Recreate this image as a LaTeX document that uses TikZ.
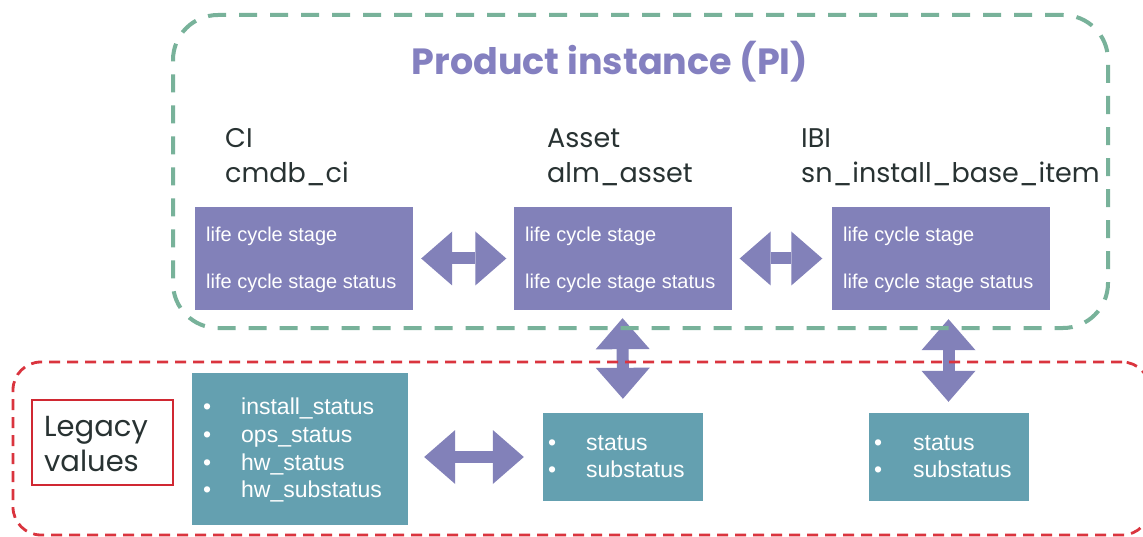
\documentclass[tikz,border=0pt]{standalone}
\usepackage{fontspec}
\setmainfont{Liberation Sans}
\newfontfamily\labelfont{Poppins}
\newfontfamily\titlefont{Poppins}
\usetikzlibrary{arrows.meta}
\definecolor{boxpurple}{RGB}{130,129,185}
\definecolor{boxteal}{RGB}{100,160,176}
\definecolor{dashgreen}{RGB}{120,178,154}
\definecolor{dashred}{RGB}{218,52,62}
\definecolor{legred}{RGB}{208,40,50}
\definecolor{titlec}{RGB}{132,128,192}
\definecolor{lblc}{RGB}{40,50,50}
\tikzset{
  pbox/.style={fill=boxpurple, minimum width=218pt, minimum height=103pt, inner sep=0pt},
  tbox/.style={fill=boxteal, inner sep=0pt},
  ptext/.style={text=white, font=\fontsize{20}{24}\selectfont, anchor=base west, inner sep=0pt},
  ttext/.style={text=white, font=\fontsize{23}{27}\selectfont, anchor=base west, inner sep=0pt},
  lbl/.style={text=lblc, font=\labelfont\fontsize{27}{35}\selectfont, anchor=base west, inner sep=0pt},
  dblarrow/.style={draw=boxpurple, line width=12pt,
    {Triangle[width=54pt,length=31pt,line width=0pt]}-{Triangle[width=54pt,length=31pt,line width=0pt]}},
}
\begin{document}
\begin{tikzpicture}[x=1pt,y=-1pt]
\useasboundingbox (0,0) rectangle (1143,537);
\fill[white] (0,0) rectangle (1143,537);

% title and labels
\node[text=titlec, font=\titlefont\bfseries\fontsize{36.5}{40}\selectfont, anchor=base, inner sep=0pt] (title) at (610,75) {Product instance (PI)};
\node[lbl] (ci) at (225,148) {CI};
\node[lbl] (cmdb) at (225,183) {cmdb\_ci};
\node[lbl] (asset) at (547,148) {Asset};
\node[lbl] (alm) at (547,183) {alm\_asset};
\node[lbl] (ibi) at (801,148) {IBI};
\node[lbl] (snib) at (801,183) {sn\_install\_base\_item};

% purple boxes
\node[pbox] (p1) at (304,258.5) {};
\node[pbox] (p2) at (622.5,258.5) {};
\node[pbox] (p3) at (940.5,258.5) {};
\node[ptext] (p1a) at (206,242) {life cycle stage};
\node[ptext] (p1b) at (206,289) {life cycle stage status};
\node[ptext] (p2a) at (525,242) {life cycle stage};
\node[ptext] (p2b) at (525,289) {life cycle stage status};
\node[ptext] (p3a) at (843,242) {life cycle stage};
\node[ptext] (p3b) at (843,289) {life cycle stage status};

% teal boxes
\node[tbox, minimum width=216pt, minimum height=152pt] (t1) at (300,449) {};
\node[tbox, minimum width=160pt, minimum height=88pt] (t2) at (623,457) {};
\node[tbox, minimum width=160pt, minimum height=88pt] (t3) at (948.5,457) {};
\node[ttext] (b11) at (203,414) {•};
\node[ttext] (b12) at (203,442) {•};
\node[ttext] (b13) at (203,470) {•};
\node[ttext] (b14) at (203,497) {•};
\node[ttext] (t1a) at (241,414) {install\_status};
\node[ttext] (t1b) at (241,442) {ops\_status};
\node[ttext] (t1c) at (241,470) {hw\_status};
\node[ttext] (t1d) at (241,497) {hw\_substatus};
\node[ttext] (b21) at (548,450) {•};
\node[ttext] (b22) at (548,477) {•};
\node[ttext] (t2a) at (586,450) {status};
\node[ttext] (t2b) at (586,477) {substatus};
\node[ttext] (b31) at (874,450) {•};
\node[ttext] (b32) at (874,477) {•};
\node[ttext] (t3a) at (913,450) {status};
\node[ttext] (t3b) at (913,477) {substatus};

% legacy box
\node[draw=legred, line width=2.5pt, minimum width=141pt, minimum height=85pt, inner sep=0pt] (leg) at (102.5,442.5) {};
\node[lbl, font=\labelfont\fontsize{29}{35}\selectfont, align=left, anchor=west] (legtxt) at (44,444) {Legacy\\values};

% arrows
\draw[dblarrow, shorten <=8pt, shorten >=7pt] (p1.east) -- (p2.west);
\draw[dblarrow, shorten <=8pt, shorten >=9pt] (p2.east) -- (p3.west);
\draw[dblarrow, shorten <=8pt, shorten >=14pt] (p2.south) -- (t2.north);
\draw[dblarrow, shorten <=9pt, shorten >=11pt] (t3.north |- p3.south) -- (t3.north);
\draw[dblarrow, shorten <=16pt, shorten >=19pt] (t1.east |- t2.west) -- (t2.west);

% dashed frames
\node[draw=dashgreen, line width=4pt, dash pattern=on 18pt off 13pt, rounded corners=45pt,
  minimum width=935pt, minimum height=313pt, inner sep=0pt] (pi) at (640.5,171.5) {};
\node[draw=dashred, line width=2.8pt, dash pattern=on 11pt off 7pt, rounded corners=28pt,
  minimum width=1137pt, minimum height=173pt, inner sep=0pt] (legacy) at (581.5,448.5) {};
\end{tikzpicture}
\end{document}
